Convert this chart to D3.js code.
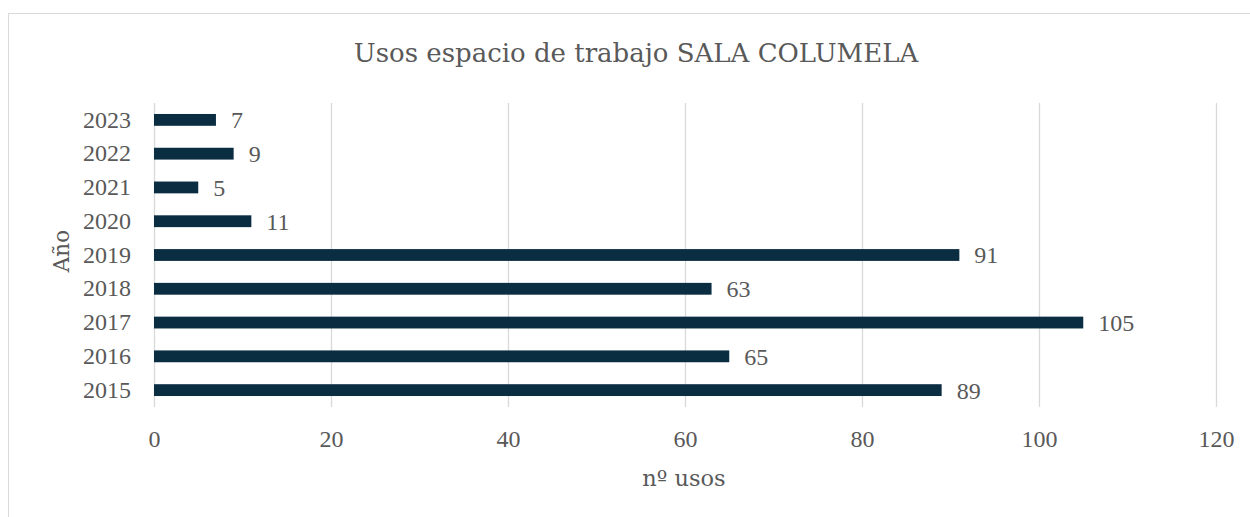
<!DOCTYPE html>
<html><head><meta charset="utf-8">
<script src="https://cdn.jsdelivr.net/npm/d3@7"></script>
<style>body{margin:0;background:#fff}svg{display:block}text{fill:#595959}
.num{font-family:"Liberation Serif",serif}
.lbl{font-family:"DejaVu Serif",serif}</style>
</head><body><svg id="c" width="1250" height="517"></svg>
<script>
const years = ["2015","2016","2017","2018","2019","2020","2021","2022","2023"];
const usos = [89,65,105,63,91,11,5,9,7];
const xTicks = [0,20,40,60,80,100,120];
const title = "Usos espacio de trabajo SALA COLUMELA";
const xTitle = "nº usos";
const yTitle = "Año";

const svg = d3.select("#c");
svg.append("rect").attr("x",8.5).attr("y",13.5).attr("width",1260).attr("height",520)
  .attr("fill","#fff").attr("stroke","#d9d9d9");

const x = d3.scaleLinear().domain([0,120]).range([154,1216]);
const y = d3.scaleBand().domain(years.slice().reverse()).range([103,407]).paddingInner(0.65).paddingOuter(0.325);

const gx = svg.append("g").attr("transform","translate(0,407)")
  .call(d3.axisBottom(x).tickValues(xTicks).tickSize(-304).tickPadding(23));
gx.select(".domain").remove();
gx.selectAll(".tick line").attr("stroke","#d9d9d9").attr("stroke-width",1.3);
gx.selectAll(".tick text").attr("class","num").style("font-size","24px").attr("fill","#595959");

const gy = svg.append("g").attr("transform","translate(154,0)")
  .call(d3.axisLeft(y).tickSize(0).tickPadding(23));
gy.select(".domain").remove();
gy.selectAll(".tick text").attr("class","num").style("font-size","24px").attr("fill","#595959");

svg.append("g").selectAll("rect").data(years).join("rect")
  .attr("x",x(0)).attr("y",d=>y(d)).attr("height",y.bandwidth())
  .attr("width",(d,i)=>x(usos[i])-x(0)).attr("fill","#0b2d42");

svg.append("g").selectAll("text").data(years).join("text").attr("class","num")
  .attr("x",(d,i)=>x(usos[i])+15).attr("y",d=>y(d)+y.bandwidth()/2)
  .attr("dy","0.35em").style("font-size","24px").text((d,i)=>usos[i]);

svg.append("text").attr("class","lbl").attr("x",636).attr("y",62).attr("text-anchor","middle")
  .style("font-size","26px").text(title);
svg.append("text").attr("class","lbl").attr("x",684).attr("y",486).attr("text-anchor","middle")
  .style("font-size","22.5px").text(xTitle);
svg.append("text").attr("class","lbl").attr("transform","translate(69,251) rotate(-90)").attr("text-anchor","middle")
  .style("font-size","21.5px").text(yTitle);
</script></body></html>
